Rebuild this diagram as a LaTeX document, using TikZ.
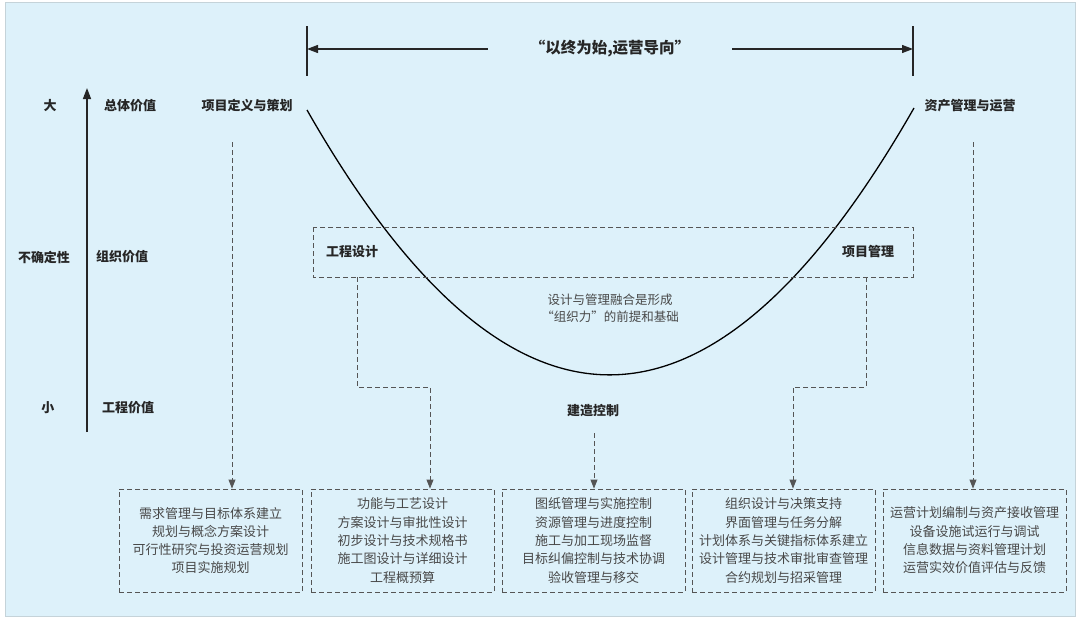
\documentclass[tikz,border=0pt]{standalone}
\usepackage{fontspec}
\setmainfont{Noto Sans CJK SC}
\usetikzlibrary{arrows.meta}
\definecolor{bg}{HTML}{DDF1FA}
\definecolor{frame}{HTML}{C5D3D9}
\definecolor{ink}{HTML}{262626}
\definecolor{dashc}{HTML}{555555}
\definecolor{soft}{HTML}{484848}
\begin{document}
\begin{tikzpicture}[x=1pt,y=-1pt,
  lbl/.style={font=\fontsize{13}{15}\selectfont\bfseries, text=ink, inner sep=0pt},
  boxtxt/.style={font=\fontsize{13}{18.3}\selectfont, text=soft, align=center},
  dashbox/.style={draw=dashc, dash pattern=on 5pt off 3pt, line width=0.9pt},
  dline/.style={draw=dashc, dash pattern=on 5pt off 3pt, line width=0.9pt},
  darr/.style={dline, -{Triangle[length=9pt,width=7pt]}},
  sarr/.style={draw=ink, line width=1.3pt, -{Triangle[length=11pt,width=8pt]}},
  stagebox/.style={dashbox, boxtxt, minimum width=183pt, minimum height=103pt, inner sep=0pt},
]
\useasboundingbox (0,0) rectangle (1080,621);
\fill[white] (0,0) rectangle (1080,621);
\filldraw[fill=bg, draw=frame, line width=1pt] (5,2) rectangle (1075,616);

% top banner
\coordinate (lbt) at (307,26); \coordinate (lbb) at (307,76);
\coordinate (rbt) at (913,26); \coordinate (rbb) at (913,76);
\draw[ink, line width=1.2pt] (lbt) -- (lbb);
\draw[ink, line width=1.2pt] (rbt) -- (rbb);
\node[font=\fontsize{15.5}{17}\selectfont\bfseries, text=ink, inner xsep=42pt, inner ysep=0pt] (title) at (610,49) {“以终为始,运营导向”};
\coordinate (la) at (307,49); \coordinate (ra) at (913,49);
\draw[sarr, line width=1.2pt] (title.west) -- (la);
\draw[sarr, line width=1.2pt] (title.east) -- (ra);

% vertical axis
\coordinate (axb) at (87,432); \coordinate (axt) at (87,88);
\draw[sarr, line width=1.5pt] (axb) -- (axt);
\node[lbl] (big) at (50,106) {大};
\node[lbl] (unc) at (44,257) {不确定性};
\node[lbl] (small) at (48,408) {小};
\node[lbl] (v1) at (130,106) {总体价值};
\node[lbl] (v2) at (122,257) {组织价值};
\node[lbl] (v3) at (128,408) {工程价值};

% stage labels
\node[lbl] (def) at (247,106) {项目定义与策划};
\node[lbl] (ops) at (970,106) {资产管理与运营};

% U curve
\coordinate (cs) at (307,110); \coordinate (ce) at (914,108);
\draw[black, line width=1.3pt] (cs) .. controls (509,464) and (711,463) .. (ce);

% organisation box
\draw[dashbox] (313,227) rectangle (913,277);
\coordinate (orgbl) at (357,277); \coordinate (orgbr) at (866,277);
\node[lbl] (des) at (352,252) {工程设计};
\node[lbl] (pm) at (868,252) {项目管理};
\node[font=\fontsize{12.5}{16.5}\selectfont, text=soft, align=center] (fuse) at (610,308) {设计与管理融合是形成\\“组织力”的前提和基础};

\node[lbl] (con) at (593,411) {建造控制};

% bottom boxes
\node[stagebox] (b1) at (210.5,540.5) {需求管理与目标体系建立\\规划与概念方案设计\\可行性研究与投资运营规划\\项目实施规划};
\node[stagebox] (b2) at (402.5,540.5) {功能与工艺设计\\方案设计与审批性设计\\初步设计与技术规格书\\施工图设计与详细设计\\工程概预算};
\node[stagebox] (b3) at (593.5,540.5) {图纸管理与实施控制\\资源管理与进度控制\\施工与加工现场监督\\目标纠偏控制与技术协调\\验收管理与移交};
\node[stagebox] (b4) at (783.5,540.5) {组织设计与决策支持\\界面管理与任务分解\\计划体系与关键指标体系建立\\设计管理与技术审批审查管理\\合约规划与招采管理};
\node[stagebox] (b5) at (974.5,540.5) {运营计划编制与资产接收管理\\设备设施试运行与调试\\信息数据与资料管理计划\\运营实效价值评估与反馈};

% dashed connectors
\coordinate (d1s) at (232,142);
\draw[darr] (d1s) -- (d1s |- b1.north);
\draw[darr] (orgbl) -- (357,387) -- (430,387) -- (430,0 |- b2.north);
\coordinate (d3s) at (594,433);
\draw[darr] (d3s) -- (d3s |- b3.north);
\draw[darr] (orgbr) -- (866,387) -- (793,387) -- (793,0 |- b4.north);
\coordinate (d5s) at (973,142);
\draw[darr] (d5s) -- (d5s |- b5.north);
\end{tikzpicture}
\end{document}
